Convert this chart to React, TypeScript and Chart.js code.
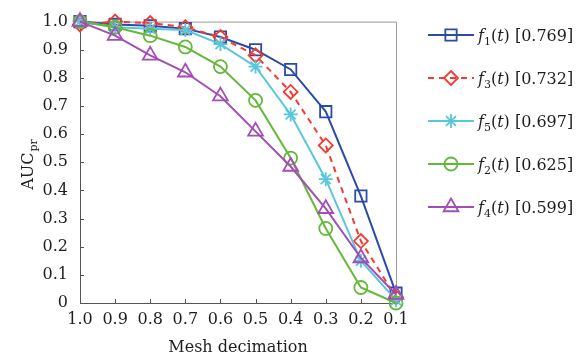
import React, { useEffect, useRef } from 'react';
import { Chart, registerables } from 'chart.js';

Chart.register(...registerables);

const decimation = ['1.0', '0.9', '0.8', '0.7', '0.6', '0.5', '0.4', '0.3', '0.2', '0.1'];
const f1Values = [1.0, 0.99, 0.985, 0.975, 0.945, 0.9, 0.83, 0.68, 0.38, 0.035];
const f3Values = [0.99, 1.0, 0.995, 0.98, 0.945, 0.88, 0.75, 0.56, 0.22, 0.02];
const f5Values = [1.0, 0.98, 0.975, 0.97, 0.92, 0.84, 0.67, 0.44, 0.15, 0.01];
const f2Values = [1.0, 0.98, 0.95, 0.91, 0.84, 0.72, 0.515, 0.265, 0.055, 0.0];
const f4Values = [1.0, 0.95, 0.88, 0.82, 0.735, 0.61, 0.485, 0.335, 0.16, 0.03];

const seriesIndex = ['1', '3', '5', '2', '4'];
const seriesScore = ['0.769', '0.732', '0.697', '0.625', '0.599'];
const seriesColors = ['#2B4BA8', '#F43A32', '#58C7DA', '#64B83A', '#A24EB6'];
const seriesMarkers = ['rect', 'rectRot', 'star', 'circle', 'triangle'];
const seriesRadius = [8, 7, 7, 6.5, 8.5];
const seriesDash: number[][] = [[], [6, 5], [], [], []];
const seriesData = [f1Values, f3Values, f5Values, f2Values, f4Values];

const FONT = '"DejaVu Serif", serif';
const TEXT = '#1e1e1e';

function drawMarker(ctx: CanvasRenderingContext2D, style: string, x: number, y: number, r: number) {
  ctx.beginPath();
  if (style === 'rect') {
    const s = Math.SQRT1_2 * r;
    ctx.rect(x - s, y - s, 2 * s, 2 * s);
  } else if (style === 'rectRot') {
    ctx.moveTo(x, y - r);
    ctx.lineTo(x + r, y);
    ctx.lineTo(x, y + r);
    ctx.lineTo(x - r, y);
    ctx.closePath();
  } else if (style === 'circle') {
    ctx.arc(x, y, r, 0, Math.PI * 2);
  } else if (style === 'triangle') {
    for (let i = 0; i < 3; i++) {
      const a = -Math.PI / 2 + (i * 2 * Math.PI) / 3;
      const px = x + Math.cos(a) * r;
      const py = y + Math.sin(a) * r;
      if (i === 0) ctx.moveTo(px, py); else ctx.lineTo(px, py);
    }
    ctx.closePath();
  } else if (style === 'star') {
    for (let i = 0; i < 4; i++) {
      const a = (i * Math.PI) / 4;
      ctx.moveTo(x - Math.cos(a) * r, y - Math.sin(a) * r);
      ctx.lineTo(x + Math.cos(a) * r, y + Math.sin(a) * r);
    }
  }
  ctx.stroke();
}

const decorPlugin = {
  id: 'decor',
  beforeDatasetsDraw(chart: any) {
    const { ctx, chartArea: ca, scales } = chart;
    ctx.save();
    ctx.strokeStyle = '#9a9a9a';
    ctx.lineWidth = 1;
    ctx.beginPath();
    ctx.moveTo(ca.left, ca.top + 0.5);
    ctx.lineTo(ca.right + 0.5, ca.top + 0.5);
    ctx.lineTo(ca.right + 0.5, ca.bottom);
    ctx.stroke();
    ctx.strokeStyle = '#555';
    ctx.beginPath();
    scales.x.ticks.forEach((_t: any, i: number) => {
      const px = Math.round(scales.x.getPixelForTick(i)) + 0.5;
      ctx.moveTo(px, ca.bottom);
      ctx.lineTo(px, ca.bottom - 4);
    });
    scales.y.ticks.forEach((_t: any, i: number) => {
      const py = Math.round(scales.y.getPixelForTick(i)) + 0.5;
      ctx.moveTo(ca.left, py);
      ctx.lineTo(ca.left + 4, py);
    });
    ctx.stroke();
    ctx.restore();
  },
  afterDraw(chart: any) {
    const { ctx } = chart;
    ctx.save();
    // Y axis title AUC_pr
    ctx.translate(27, 165);
    ctx.rotate(-Math.PI / 2);
    ctx.fillStyle = TEXT;
    ctx.textBaseline = 'alphabetic';
    ctx.font = `16px ${FONT}`;
    const wMain = ctx.measureText('AUC').width;
    ctx.font = `11px ${FONT}`;
    const wSub = ctx.measureText('pr').width;
    const start = -(wMain + wSub) / 2;
    ctx.font = `16px ${FONT}`;
    ctx.fillText('AUC', start, 6);
    ctx.font = `11px ${FONT}`;
    ctx.fillText('pr', start + wMain + 1, 10);
    ctx.restore();

    // Legend
    ctx.save();
    const y0 = 35;
    const dy = 43;
    for (let i = 0; i < seriesIndex.length; i++) {
      const y = y0 + dy * i;
      ctx.strokeStyle = seriesColors[i];
      ctx.lineWidth = 2;
      ctx.setLineDash(seriesDash[i]);
      ctx.beginPath();
      ctx.moveTo(428, y);
      ctx.lineTo(474, y);
      ctx.stroke();
      ctx.setLineDash([]);
      ctx.lineWidth = 1.8;
      drawMarker(ctx, seriesMarkers[i], 451, y, seriesRadius[i]);
      ctx.fillStyle = TEXT;
      ctx.textBaseline = 'alphabetic';
      let x = 478;
      const base = y + 6;
      ctx.font = `italic 16px ${FONT}`;
      ctx.fillText('f', x, base);
      x += ctx.measureText('f').width;
      ctx.font = `11px ${FONT}`;
      ctx.fillText(seriesIndex[i], x, base + 4);
      x += ctx.measureText(seriesIndex[i]).width;
      ctx.font = `16px ${FONT}`;
      ctx.fillText('(', x, base);
      x += ctx.measureText('(').width;
      ctx.font = `italic 16px ${FONT}`;
      ctx.fillText('t', x, base);
      x += ctx.measureText('t').width;
      ctx.font = `16px ${FONT}`;
      ctx.fillText(`) [${seriesScore[i]}]`, x, base);
    }
    ctx.restore();
  },
};

export default function App() {
  const canvasRef = useRef<HTMLCanvasElement | null>(null);

  useEffect(() => {
    if (!canvasRef.current) return;
    const datasets = seriesData.map((data, i) => ({
      label: `f${seriesIndex[i]}(t) [${seriesScore[i]}]`,
      data,
      borderColor: seriesColors[i],
      borderWidth: 2,
      borderDash: seriesDash[i],
      pointStyle: seriesMarkers[i] as any,
      pointRadius: seriesRadius[i],
      pointBorderWidth: 1.8,
      pointBorderColor: seriesColors[i],
      pointBackgroundColor: 'rgba(0,0,0,0)',
      tension: 0,
      clip: false as any,
      order: 4 - i,
    }));
    const chart = new Chart(canvasRef.current, {
      type: 'line',
      data: { labels: decimation, datasets },
      options: {
        animation: false,
        responsive: false,
        layout: { padding: { left: 0, right: 183, top: 14, bottom: 0 } },
        plugins: { legend: { display: false }, tooltip: { enabled: false } },
        scales: {
          x: {
            type: 'category',
            offset: false,
            grid: { display: false, drawTicks: false },
            border: { display: true, color: '#555', width: 1 },
            ticks: {
              font: { family: FONT, size: 16 },
              color: TEXT,
              padding: 7,
              maxRotation: 0,
              autoSkip: false,
            },
            title: {
              display: true,
              text: 'Mesh decimation',
              font: { family: FONT, size: 16 },
              color: TEXT,
              padding: { top: 0, bottom: 7 },
            },
            afterFit: (s: any) => { s.height = 61; },
          },
          y: {
            type: 'linear',
            min: 0,
            max: 1,
            grid: { display: false, drawTicks: false },
            border: { display: true, color: '#555', width: 1 },
            ticks: {
              stepSize: 0.1,
              font: { family: FONT, size: 16 },
              color: TEXT,
              padding: 12,
              callback: (v: any) => (Number(v) === 0 ? '0' : Number(v).toFixed(1)),
            },
            afterFit: (s: any) => { s.width = 80; },
          },
        },
      },
      plugins: [decorPlugin],
    });
    return () => chart.destroy();
  }, []);

  return (
    <div style={{ position: 'fixed', left: 0, top: 0, width: 579, height: 364, background: '#fff' }}>
      <canvas ref={canvasRef} width={579} height={364} style={{ width: 579, height: 364 }} />
    </div>
  );
}
